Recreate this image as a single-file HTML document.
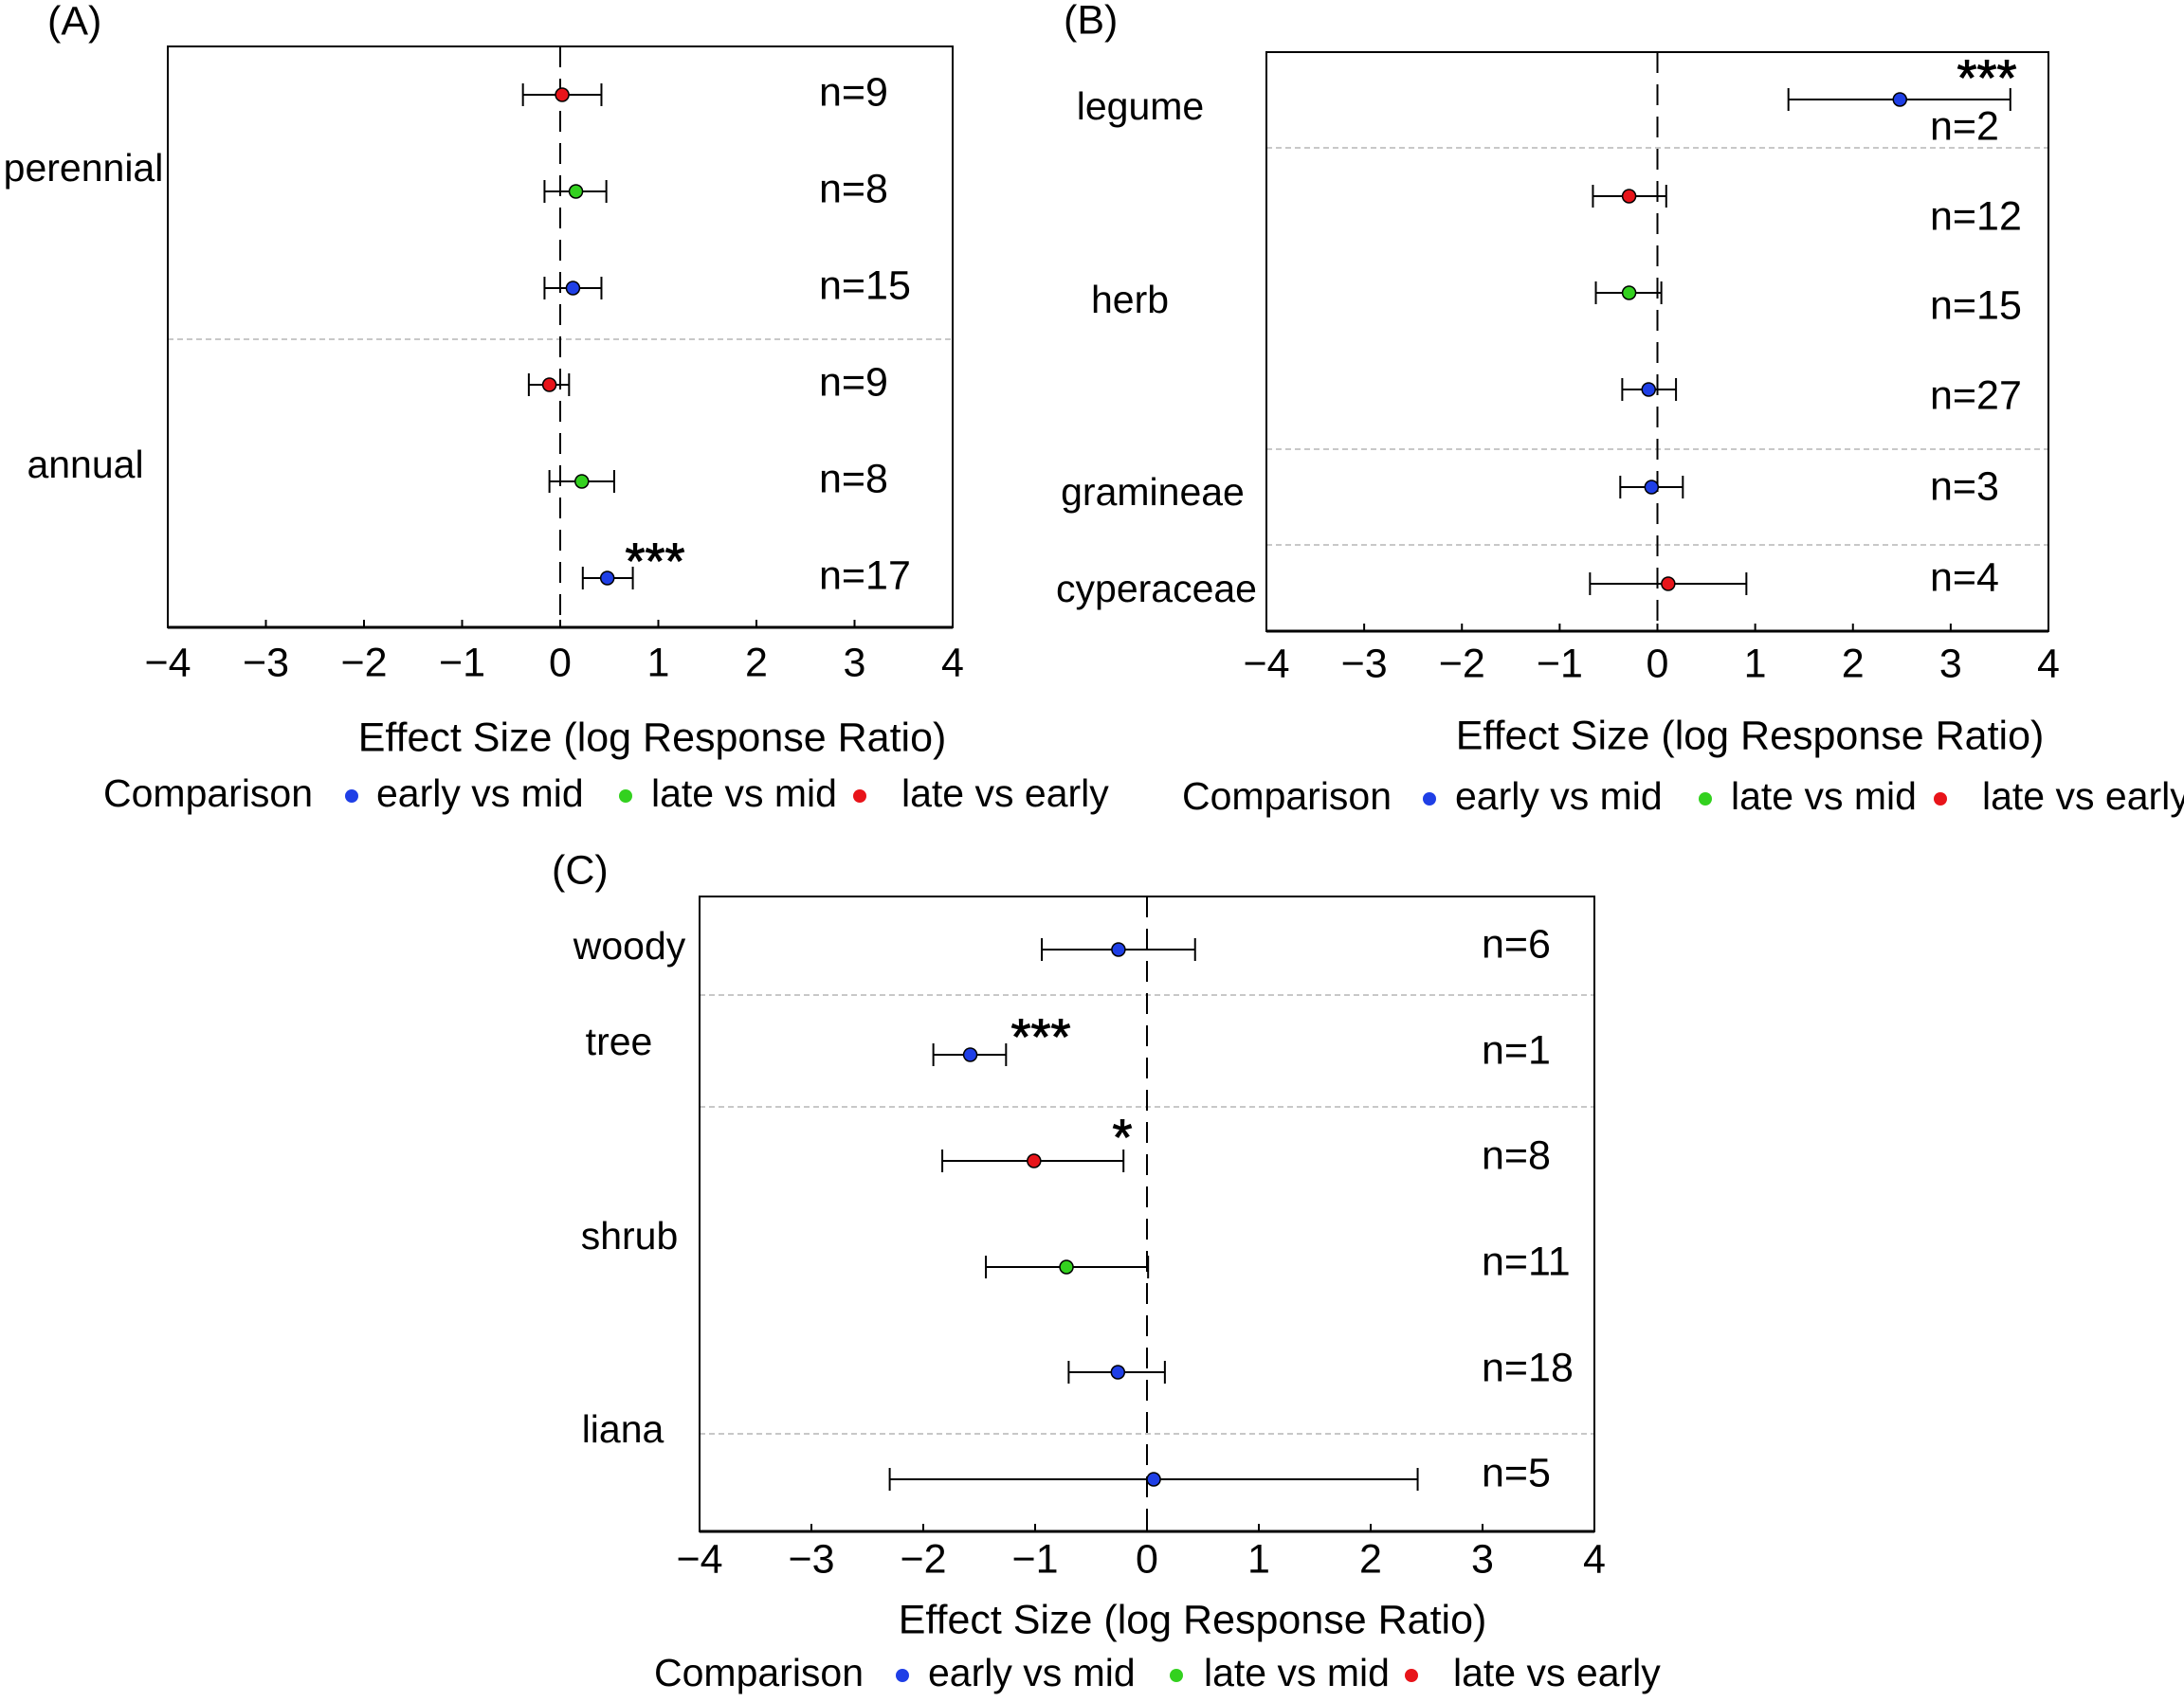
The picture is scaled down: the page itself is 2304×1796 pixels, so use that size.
<!DOCTYPE html>
<html><head><meta charset="utf-8"><style>
body{margin:0;background:#fff}
svg{display:block;font-family:"Liberation Sans",Arial,sans-serif}
</style></head><body>
<svg id="fig" width="2304" height="1796" viewBox="0 0 2304 1796" xmlns="http://www.w3.org/2000/svg"></svg>
<script>
// Panel A data
const aCategories=["perennial","annual"];
const aGroup=["red","green","blue","red","green","blue"];
const aMean=[0.02,0.16,0.13,-0.11,0.22,0.48];
const aLow=[-0.38,-0.16,-0.16,-0.32,-0.11,0.23];
const aHigh=[0.42,0.47,0.42,0.09,0.55,0.74];
const aN=["n=9","n=8","n=15","n=9","n=8","n=17"];
const aSig=["","","","","","***"];
// Panel B data
const bCategories=["legume","herb","gramineae","cyperaceae"];
const bGroup=["blue","red","green","blue","blue","red"];
const bMean=[2.48,-0.29,-0.29,-0.09,-0.06,0.11];
const bLow=[1.34,-0.66,-0.63,-0.36,-0.38,-0.69];
const bHigh=[3.61,0.09,0.04,0.19,0.26,0.91];
const bN=["n=2","n=12","n=15","n=27","n=3","n=4"];
const bSig=["***","","","","",""];
// Panel C data
const cCategories=["woody","tree","shrub","liana"];
const cGroup=["blue","blue","red","green","blue","blue"];
const cMean=[-0.255,-1.58,-1.01,-0.72,-0.26,0.06];
const cLow=[-0.94,-1.91,-1.83,-1.44,-0.70,-2.30];
const cHigh=[0.43,-1.26,-0.21,0.01,0.16,2.42];
const cN=["n=6","n=1","n=8","n=11","n=18","n=5"];
const cSig=["","***","*","","",""];
const xTicks=[-4,-3,-2,-1,0,1,2,3,4];
const legendLabels=["early vs mid","late vs mid","late vs early"];

const FS=43, FL=41;
const COL={blue:"#1f3fe6",green:"#33d11f",red:"#e8141a"};
const svg=document.getElementById('fig');
const NS="http://www.w3.org/2000/svg";
function el(tag,attrs,parent,txt){const e=document.createElementNS(NS,tag);for(const k in attrs)e.setAttribute(k,attrs[k]);if(txt!==undefined)e.textContent=txt;(parent||svg).appendChild(e);return e;}

function panel(p){
  const g=el('g',{});
  
  
  const xs=v=>p.x0+(v+4)/8*(p.x1-p.x0);
  const lab=el('text',{x:p.labX,y:p.labY,'font-size':FS,'dominant-baseline':'middle'},g,p.label);
  
  
  p.dividers.forEach(y=>{
    const d=el('line',{x1:p.x0,x2:p.x1,y1:y,y2:y,stroke:'#c8c8c8','stroke-width':2,'stroke-dasharray':'6,4'},g);
    
    
  });
  const z=el('line',{x1:xs(0),x2:xs(0),y1:p.y0,y2:p.y1,stroke:'#000','stroke-width':2,'stroke-dasharray':'22,12'},g);
  
  
  const b=el('rect',{x:p.x0,y:p.y0,width:p.x1-p.x0,height:p.y1-p.y0,fill:'none',stroke:'#000','stroke-width':2},g);
  
  
  el('line',{x1:p.x0,x2:p.x1,y1:p.y1,y2:p.y1,stroke:'#000','stroke-width':3},g);
  xTicks.forEach(t=>{
    el('line',{x1:xs(t),x2:xs(t),y1:p.y1,y2:p.y1-8,stroke:'#000','stroke-width':2},g);
    const tl=el('text',{x:xs(t),y:p.tickY,'font-size':FS,'text-anchor':'middle','dominant-baseline':'middle'},g,(t<0?'\u2212'+(-t):String(t)));
    
    
  });
  p.cats.forEach((c,i)=>{
    const t=el('text',{x:p.catX[i],y:p.catY[i],'font-size':FL,'text-anchor':'middle','dominant-baseline':'middle'},g,c);
    
    
  });
  p.mean.forEach((m,i)=>{
    const y=p.rowY[i];
    const eb=el('g',{},g);
    
    
    el('line',{x1:xs(p.low[i]),x2:xs(p.high[i]),y1:y,y2:y,stroke:'#000','stroke-width':2},eb);
    el('line',{x1:xs(p.low[i]),x2:xs(p.low[i]),y1:y-12,y2:y+12,stroke:'#000','stroke-width':2},eb);
    el('line',{x1:xs(p.high[i]),x2:xs(p.high[i]),y1:y-12,y2:y+12,stroke:'#000','stroke-width':2},eb);
    const pt=el('circle',{cx:xs(m),cy:y,r:7,fill:COL[p.grp[i]],stroke:'#000','stroke-width':1.5},g);
    
    
    const n=el('text',{x:p.nX,y:p.nY[i],'font-size':FS,'dominant-baseline':'middle'},g,p.n[i]);
    
    
    if(p.sig[i]){
      const s=el('text',{x:p.sigPos[i][0],y:p.sigPos[i][1]+8,'font-size':54,'text-anchor':'middle','dominant-baseline':'middle',stroke:'#000','stroke-width':1},g,p.sig[i]);
      
      
    }
  });
  const at=el('text',{x:p.titleX,y:p.titleY,'font-size':FS,'text-anchor':'middle','dominant-baseline':'middle'},g,'Effect Size (log Response Ratio)');
  
  
  const lg=el('g',{},g);
  
  
  el('text',{x:p.leg[0],y:p.legY,'font-size':FL,'dominant-baseline':'middle'},lg,'Comparison');
  ['blue','green','red'].forEach((c,k)=>{
    const d=el('circle',{cx:p.leg[1+2*k],cy:p.legY,r:7,fill:COL[c]},lg);
    
    
    const t=el('text',{x:p.leg[2+2*k],y:p.legY,'font-size':FL,'dominant-baseline':'middle'},lg,legendLabels[k]);
    
    
  });
}

panel({name:'panel-a',label:'(A)',labX:50,labY:25,x0:177,x1:1005,y0:49,y1:662,
  dividers:[358],cats:aCategories,catX:[88,90],catY:[180,493],
  rowY:[100,202,304,406,508,610],mean:aMean,low:aLow,high:aHigh,grp:aGroup,
  n:aN,nX:864,nY:[100,202,304,406,508,610],sig:aSig,sigPos:[0,0,0,0,0,[691,588]],
  tickY:702,titleX:688,titleY:781,legY:840,leg:[109,371,397,660,687,907,951]});
panel({name:'panel-b',label:'(B)',labX:1122,labY:24,x0:1336,x1:2161,y0:55,y1:666,
  dividers:[156,474,575],cats:bCategories,catX:[1203,1192,1216,1220],catY:[115,319,522,624],
  rowY:[105,207,309,411,514,616],mean:bMean,low:bLow,high:bHigh,grp:bGroup,
  n:bN,nX:2036,nY:[136,231,325,420,516,612],sig:bSig,sigPos:[[2096,78]],
  tickY:703,titleX:1846,titleY:779,legY:843,leg:[1247,1508,1535,1799,1826,2047,2091]});
panel({name:'panel-c',label:'(C)',labX:582,labY:921,x0:738,x1:1682,y0:946,y1:1616,
  dividers:[1050,1168,1513],cats:cCategories,catX:[664,653,664,657],catY:[1001,1102,1307,1511],
  rowY:[1002,1113,1225,1337,1448,1561],mean:cMean,low:cLow,high:cHigh,grp:cGroup,
  n:cN,nX:1563,nY:[999,1111,1222,1334,1446,1557],sig:cSig,sigPos:[0,[1098,1090],[1184,1196]],
  tickY:1648,titleX:1258,titleY:1712,legY:1768,leg:[690,952,979,1241,1270,1489,1533]});
</script>
</body></html>
